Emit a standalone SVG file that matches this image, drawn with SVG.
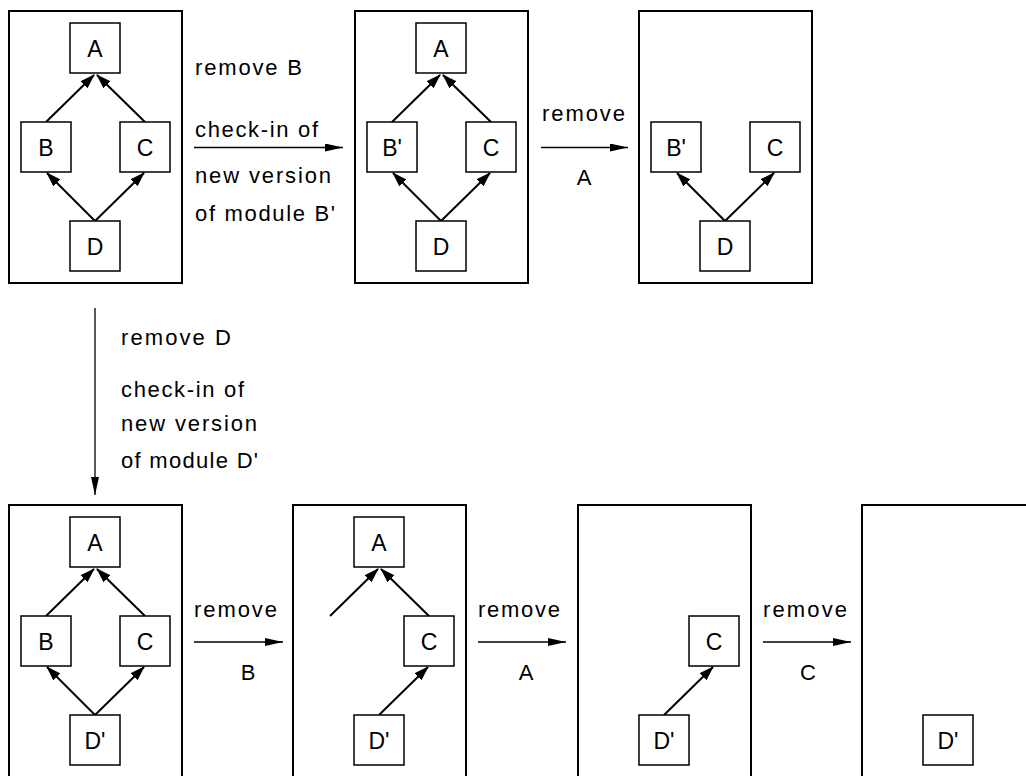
<svg xmlns="http://www.w3.org/2000/svg" width="1026" height="776" viewBox="0 0 1026 776">
<style>
.panel{fill:none;stroke:#000;stroke-width:2}
.node rect{fill:#fff;stroke:#000;stroke-width:1.5}
.node text{font-family:"Liberation Sans",Arial,sans-serif;font-size:23px;text-anchor:middle;fill:#000}
.edge{stroke:#000;stroke-width:2;fill:none;marker-end:url(#head)}
.flow{stroke:#000;stroke-width:1.3;fill:none;marker-end:url(#bighead)}
.lbl{font-family:"Liberation Sans",Arial,sans-serif;font-size:22px;fill:#000}
.mid{text-anchor:middle}
</style>
<defs>
<marker id="head" markerUnits="userSpaceOnUse" markerWidth="15" markerHeight="10" refX="14" refY="5" orient="auto"><path d="M0,0 L15,5 L0,10 z" fill="#000"/></marker>
<marker id="bighead" markerUnits="userSpaceOnUse" markerWidth="18" markerHeight="8" refX="18" refY="4" orient="auto"><path d="M0,0 L18,4 L0,8 z" fill="#000"/></marker>
</defs>
<rect width="1026" height="776" fill="#fff"/>

<g id="panels">
<rect class="panel" x="9" y="11" width="173" height="272"/>
<rect class="panel" x="355" y="11" width="173" height="272"/>
<rect class="panel" x="639" y="11" width="173" height="272"/>
<rect class="panel" x="9" y="505" width="173" height="272"/>
<rect class="panel" x="293" y="505" width="173" height="272"/>
<rect class="panel" x="578" y="505" width="173" height="272"/>
<rect class="panel" x="862" y="505" width="173" height="272"/>
</g>

<g id="connectors">
<line class="edge" x1="46" y1="122" x2="94" y2="75"/>
<line class="edge" x1="145" y1="122" x2="97" y2="75"/>
<line class="edge" x1="95" y1="221" x2="47" y2="173"/>
<line class="edge" x1="95" y1="221" x2="144" y2="173"/>

<line class="edge" x1="392" y1="122" x2="440" y2="75"/>
<line class="edge" x1="491" y1="122" x2="443" y2="75"/>
<line class="edge" x1="441" y1="221" x2="393" y2="173"/>
<line class="edge" x1="441" y1="221" x2="490" y2="173"/>

<line class="edge" x1="725" y1="221" x2="677" y2="173"/>
<line class="edge" x1="725" y1="221" x2="774" y2="173"/>

<line class="edge" x1="46" y1="616" x2="94" y2="569"/>
<line class="edge" x1="145" y1="616" x2="97" y2="569"/>
<line class="edge" x1="95" y1="715" x2="47" y2="667"/>
<line class="edge" x1="95" y1="715" x2="144" y2="667"/>

<line class="edge" x1="330" y1="616" x2="378" y2="569"/>
<line class="edge" x1="429" y1="616" x2="381" y2="569"/>
<line class="edge" x1="379" y1="715" x2="428" y2="667"/>

<line class="edge" x1="664" y1="715" x2="713" y2="667"/>

<line class="flow" x1="194" y1="147.5" x2="343" y2="147.5"/>
<line class="flow" x1="541" y1="147.5" x2="628" y2="147.5"/>
<line class="flow" x1="95" y1="308" x2="95" y2="495"/>
<line class="flow" x1="194" y1="642" x2="283" y2="642"/>
<line class="flow" x1="478" y1="642" x2="566" y2="642"/>
<line class="flow" x1="763" y1="642" x2="851" y2="642"/>
</g>

<g id="labels">
<text class="lbl" x="195" y="75" textLength="107" lengthAdjust="spacing">remove B</text>
<text class="lbl" x="195" y="137" textLength="123" lengthAdjust="spacing">check-in of</text>
<text class="lbl" x="195" y="183" textLength="136" lengthAdjust="spacing">new  version</text>
<text class="lbl" x="195" y="221" textLength="140" lengthAdjust="spacing">of module B'</text>

<text class="lbl" x="542" y="121" textLength="83" lengthAdjust="spacing">remove</text>
<text class="lbl mid" x="584" y="185">A</text>

<text class="lbl" x="121" y="345" textLength="110" lengthAdjust="spacing">remove D</text>
<text class="lbl" x="121" y="397" textLength="123" lengthAdjust="spacing">check-in of</text>
<text class="lbl" x="121" y="431" textLength="136" lengthAdjust="spacing">new  version</text>
<text class="lbl" x="121" y="468" textLength="137" lengthAdjust="spacing">of module D'</text>

<text class="lbl" x="194" y="617" textLength="83" lengthAdjust="spacing">remove</text>
<text class="lbl mid" x="248" y="680">B</text>
<text class="lbl" x="478" y="617" textLength="82" lengthAdjust="spacing">remove</text>
<text class="lbl mid" x="526" y="680">A</text>
<text class="lbl" x="763" y="617" textLength="84" lengthAdjust="spacing">remove</text>
<text class="lbl mid" x="808" y="680">C</text>
</g>

<g id="n1A" class="node"><rect x="70" y="23" width="50" height="50"/><text x="95" y="56.5">A</text></g>
<g id="n1B" class="node"><rect x="21" y="122" width="50" height="50"/><text x="46" y="155.5">B</text></g>
<g id="n1C" class="node"><rect x="120" y="122" width="50" height="50"/><text x="145" y="155.5">C</text></g>
<g id="n1D" class="node"><rect x="70" y="221" width="50" height="50"/><text x="95" y="254.5">D</text></g>

<g id="n2A" class="node"><rect x="416" y="23" width="50" height="50"/><text x="441" y="56.5">A</text></g>
<g id="n2B" class="node"><rect x="367" y="122" width="50" height="50"/><text x="392" y="155.5">B'</text></g>
<g id="n2C" class="node"><rect x="466" y="122" width="50" height="50"/><text x="491" y="155.5">C</text></g>
<g id="n2D" class="node"><rect x="416" y="221" width="50" height="50"/><text x="441" y="254.5">D</text></g>

<g id="n3B" class="node"><rect x="651" y="122" width="50" height="50"/><text x="676" y="155.5">B'</text></g>
<g id="n3C" class="node"><rect x="750" y="122" width="50" height="50"/><text x="775" y="155.5">C</text></g>
<g id="n3D" class="node"><rect x="700" y="221" width="50" height="50"/><text x="725" y="254.5">D</text></g>

<g id="n4A" class="node"><rect x="70" y="517" width="50" height="50"/><text x="95" y="550.5">A</text></g>
<g id="n4B" class="node"><rect x="21" y="616" width="50" height="50"/><text x="46" y="649.5">B</text></g>
<g id="n4C" class="node"><rect x="120" y="616" width="50" height="50"/><text x="145" y="649.5">C</text></g>
<g id="n4D" class="node"><rect x="70" y="715" width="50" height="50"/><text x="95" y="748.5">D'</text></g>

<g id="n5A" class="node"><rect x="354" y="517" width="50" height="50"/><text x="379" y="550.5">A</text></g>
<g id="n5C" class="node"><rect x="404" y="616" width="50" height="50"/><text x="429" y="649.5">C</text></g>
<g id="n5D" class="node"><rect x="354" y="715" width="50" height="50"/><text x="379" y="748.5">D'</text></g>

<g id="n6C" class="node"><rect x="689" y="616" width="50" height="50"/><text x="714" y="649.5">C</text></g>
<g id="n6D" class="node"><rect x="639" y="715" width="50" height="50"/><text x="664" y="748.5">D'</text></g>

<g id="n7D" class="node"><rect x="923" y="715" width="50" height="50"/><text x="948" y="748.5">D'</text></g>
</svg>
